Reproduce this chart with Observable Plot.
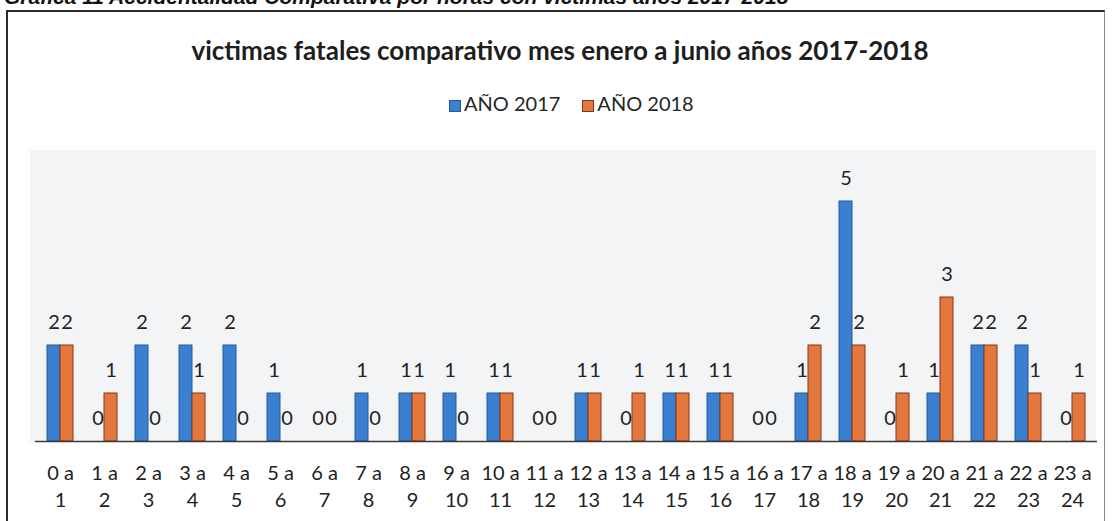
<!DOCTYPE html>
<html>
<head>
<meta charset="utf-8">
<script src="https://cdn.jsdelivr.net/npm/d3@7"></script>
<script src="https://cdn.jsdelivr.net/npm/@observablehq/plot@0.6"></script>
<style>
  html, body { margin: 0; padding: 0; background: #fff; }
  body { width: 1112px; height: 521px; position: relative; overflow: hidden; font-family: Lato, "Open Sans", sans-serif; }
  #heading { position: absolute; left: 4px; top: -14px; font: italic bold 21px/21px "Liberation Sans", Arial, sans-serif; color: #111; white-space: nowrap; }
  #box { position: absolute; left: 6px; top: 10px; width: 1096px; height: 540px; border-top: 2px solid #2a2a2a; border-left: 2px solid #2a2a2a; border-right: 1px solid #888; }
  #bleed { position: absolute; left: 30px; top: 150px; width: 1066px; height: 292px; background: #f3f4f6; }
  #title { position: absolute; left: 0; width: 1120px; top: 34px; text-align: center; font: bold 26px/32px Lato, sans-serif; color: #1e1e1e; }
  #legend { position: absolute; top: 91px; left: 449px; font: 20px/24px Lato, sans-serif; color: #262626; white-space: nowrap; }
  #legend span.sw { display: inline-block; width: 12px; height: 12px; vertical-align: -1px; margin-right: 3px; box-sizing: border-box; }
  #chart { position: absolute; left: 0; top: 120px; }
</style>
</head>
<body>
<div id="heading">Gráfica 11 Accidentalidad Comparativa por horas con victimas años 2017-2018</div>
<div id="box"></div>
<div id="bleed"></div>
<div id="title">victimas fatales comparativo mes enero a junio años 2017-2018</div>
<div id="legend"></div>
<div id="chart"></div>
<script>
const categories = ["0 a 1","1 a 2","2 a 3","3 a 4","4 a 5","5 a 6","6 a 7","7 a 8","8 a 9","9 a 10","10 a 11","11 a 12","12 a 13","13 a 14","14 a 15","15 a 16","16 a 17","17 a 18","18 a 19","19 a 20","20 a 21","21 a 22","22 a 23","23 a 24"];
const series = ["AÑO 2017", "AÑO 2018"];
const values2017 = [2,0,2,2,2,1,0,1,1,1,1,0,1,0,1,1,0,1,5,0,1,2,2,0];
const values2018 = [2,1,0,1,0,0,0,0,1,0,1,0,1,1,1,1,0,2,2,1,3,2,1,1];
const colors = ["#3b7fd0", "#e2783e"];
const strokes = ["#22599e", "#8a3414"];

const rows = [];
categories.forEach((c, i) => {
  rows.push({cat: c, year: series[0], value: values2017[i]});
  rows.push({cat: c, year: series[1], value: values2018[i]});
});
const r17 = rows.filter(d => d.year === series[0]);
const r18 = rows.filter(d => d.year === series[1]);

// legend
const leg = document.getElementById("legend");
series.forEach((s, i) => {
  const item = document.createElement("span");
  item.style.marginRight = i === 0 ? "22px" : "0";
  item.innerHTML = `<span class="sw" style="background:${colors[i]};border:1px solid ${strokes[i]}"></span>${s}`;
  leg.appendChild(item);
});

const W = 1112, H = 401;
const half = 13;
const chart = Plot.plot({
  width: W,
  height: H,
  marginLeft: 35,
  marginRight: 15,
  marginTop: 81,
  marginBottom: 80,
  style: {fontFamily: "Lato, sans-serif", background: "transparent", color: "#222"},
  x: {domain: categories, paddingInner: 0.41, paddingOuter: 0.205, label: null},
  y: {domain: [0, 5], axis: null},
  marks: [
    Plot.barY(r17.filter(d => d.value > 0), {x: "cat", y: "value", fill: colors[0], stroke: strokes[0], strokeWidth: 1, insetRight: half}),
    Plot.barY(r18.filter(d => d.value > 0), {x: "cat", y: "value", fill: colors[1], stroke: strokes[1], strokeWidth: 1, insetLeft: half}),
    Plot.ruleY([0], {stroke: "#3a3a3a", strokeWidth: 1.5}),
    Plot.text(r17, {x: "cat", y: "value", text: d => String(d.value), dx: -6.5, dy: -23, fontSize: 20, fill: "#222"}),
    Plot.text(r18, {x: "cat", y: "value", text: d => String(d.value), dx: 6.5, dy: -23, fontSize: 20, fill: "#222"}),
    Plot.axisX({tickSize: 0, tickPadding: 24, fontSize: 20, fill: "#222", label: null, tickFormat: d => d.split(" a ")[0] + " a"}),
    Plot.axisX({tickSize: 0, tickPadding: 51, fontSize: 20, fill: "#222", label: null, tickFormat: d => d.split(" a ")[1]})
  ]
});
document.getElementById("chart").appendChild(chart);
</script>
</body>
</html>
